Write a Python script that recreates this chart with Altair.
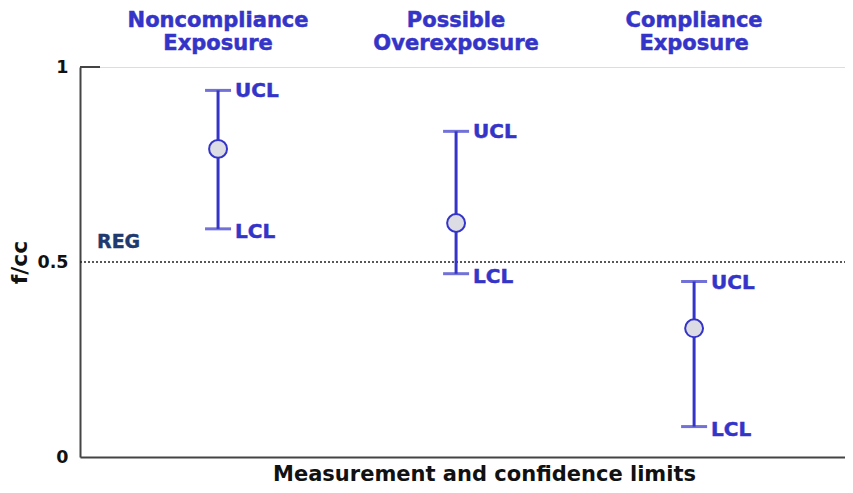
import altair as alt
import pandas as pd

# ---- data ----
categories = ["Noncompliance\nExposure", "Possible\nOverexposure", "Compliance\nExposure"]
positions = [1, 2, 3]
measurement = [0.79, 0.60, 0.33]
ucl = [0.94, 0.835, 0.45]
lcl = [0.585, 0.47, 0.078]
reg_level = [0.5]
y_ticks = [0, 0.5, 1]

df = pd.DataFrame({
    "cat": categories,
    "pos": positions,
    "meas": measurement,
    "ucl": ucl,
    "lcl": lcl,
    "ucl_lab": ["UCL"] * 3,
    "lcl_lab": ["LCL"] * 3,
})
reg_df = pd.DataFrame({"reg": reg_level, "lab": ["REG"]})
top_df = pd.DataFrame({"top": [1]})

BLUE = "#3434c8"
FONT = "DejaVu Sans"

xs = alt.Scale(domain=[0.42, 3.634], nice=False, zero=False)
ys = alt.Scale(domain=[0, 1], nice=False)

x_enc = alt.X("pos:Q", scale=xs, axis=alt.Axis(
    domain=True, domainColor="#444444", domainWidth=2, ticks=False, labels=False, grid=False,
    title="Measurement and confidence limits", titleFont=FONT, titleFontSize=21,
    titleFontWeight="bold", titleColor="#111111", titleX=404, titleY=23,
    titleAlign="center", titleBaseline="alphabetic"))
y_axis = alt.Axis(
    values=y_ticks, domain=True, domainColor="#444444", domainWidth=2, ticks=False, grid=False,
    labelFont=FONT, labelFontSize=17.5, labelFontWeight="bold", labelColor="#111111",
    labelPadding=12, labelExpr="datum.value == 0.5 ? '0.5' : format(datum.value, 'd')",
    title="f/cc", titleFont=FONT, titleFontSize=22, titleFontWeight="bold",
    titleColor="#111111", titleAngle=-90, titleX=-61, titleY=195,
    titleAlign="center", titleBaseline="middle")

base = alt.Chart(df)

bars = base.mark_rule(color=BLUE, strokeWidth=3).encode(
    x=x_enc,
    y=alt.Y("lcl:Q", scale=ys, axis=y_axis),
    y2="ucl:Q",
)
cap_u = base.mark_tick(color=BLUE, thickness=3, size=26, orient="horizontal").encode(
    x=alt.X("pos:Q", scale=xs), y=alt.Y("ucl:Q", scale=ys))
cap_l = base.mark_tick(color=BLUE, thickness=3, size=26, orient="horizontal").encode(
    x=alt.X("pos:Q", scale=xs), y=alt.Y("lcl:Q", scale=ys))
points = base.mark_point(shape="circle", filled=True, fill="#dcdce4", stroke=BLUE,
                         strokeWidth=2, size=320, opacity=1).encode(
    x=alt.X("pos:Q", scale=xs), y=alt.Y("meas:Q", scale=ys))
ucl_text = base.mark_text(align="left", baseline="middle", dx=17, dy=1, font=FONT,
                          fontSize=20, fontWeight="bold", color=BLUE,
                          stroke=BLUE, strokeWidth=0.5).encode(
    x=alt.X("pos:Q", scale=xs), y=alt.Y("ucl:Q", scale=ys), text="ucl_lab:N")
lcl_text = base.mark_text(align="left", baseline="middle", dx=17, dy=3, font=FONT,
                          fontSize=20, fontWeight="bold", color=BLUE,
                          stroke=BLUE, strokeWidth=0.5).encode(
    x=alt.X("pos:Q", scale=xs), y=alt.Y("lcl:Q", scale=ys), text="lcl_lab:N")
headers = base.mark_text(align="center", baseline="alphabetic", font=FONT, fontSize=21,
                         fontWeight="bold", color=BLUE, stroke=BLUE, strokeWidth=0.5,
                         lineBreak="\n", lineHeight=23).encode(
    x=alt.X("pos:Q", scale=xs), y=alt.value(-40), text="cat:N")

reg_line = alt.Chart(reg_df).mark_rule(color="#222222", strokeWidth=1.3,
                                       strokeDash=[2, 2]).encode(
    x=alt.value(0), x2=alt.value(768), y=alt.Y("reg:Q", scale=ys))
reg_text = alt.Chart(reg_df).mark_text(align="left", baseline="alphabetic", dx=0, dy=-14,
                                       font=FONT, fontSize=19, fontWeight="bold",
                                       color="#1f3a6e", stroke="#1f3a6e",
                                       strokeWidth=0.4).encode(
    x=alt.value(17), y=alt.Y("reg:Q", scale=ys), text="lab:N")
top_tick = alt.Chart(top_df).mark_rule(color="#444444", strokeWidth=2).encode(
    x=alt.value(0), x2=alt.value(20), y=alt.Y("top:Q", scale=ys))

chart = alt.layer(
    reg_line, top_tick, bars, cap_u, cap_l, points, ucl_text, lcl_text, headers, reg_text
).properties(
    width=765, height=390,
    autosize=alt.AutoSizeParams(type="none"),
    padding={"left": 72, "top": 59, "right": 0, "bottom": 28},
).configure_view(stroke=None).configure(background="white")

chart.save("out.html", embed_options={"renderer": "svg", "actions": False})
